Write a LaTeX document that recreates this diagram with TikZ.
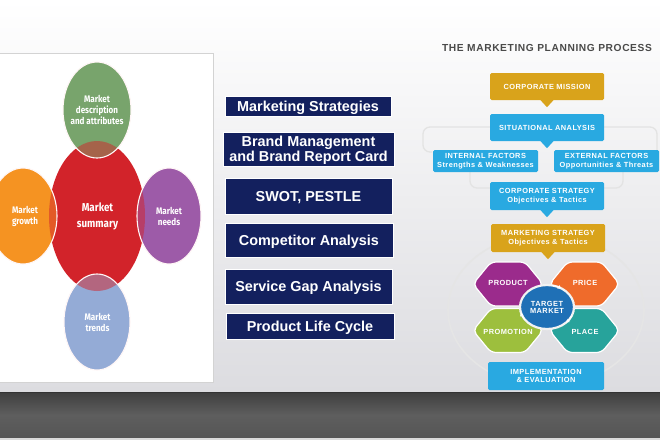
\documentclass[tikz,border=0pt]{standalone}
\usepackage{fontspec}
\setmainfont{Liberation Sans}
\newfontfamily\gfont[LetterSpace=6]{Liberation Sans}
\newfontfamily\cfont[FakeStretch=0.85]{Fira Sans}
\usetikzlibrary{arrows.meta}
\definecolor{bgbot}{HTML}{DCDCE0}
\definecolor{panelline}{HTML}{D3D3D3}
\definecolor{mred}{HTML}{D2232A}
\definecolor{mgreen}{HTML}{78A46C}
\definecolor{morange}{HTML}{F59322}
\definecolor{mpurple}{HTML}{9D5BA8}
\definecolor{mblue}{HTML}{94ABD6}
\definecolor{navy}{HTML}{13205E}
\definecolor{gold}{HTML}{D9A31B}
\definecolor{sky}{HTML}{29A9E1}
\definecolor{hpurple}{HTML}{9B2B8C}
\definecolor{horange}{HTML}{EF6B2B}
\definecolor{hgreen}{HTML}{9DBF3D}
\definecolor{hteal}{HTML}{27A39B}
\definecolor{tblue}{HTML}{1F70B6}
\definecolor{titlegray}{HTML}{4A4A4A}
\definecolor{floortop}{HTML}{3F3F3F}
\definecolor{floormid}{HTML}{5E5E5E}
\definecolor{floorbot}{HTML}{555555}
\newcommand{\dn}[1]{\raisebox{-1.7pt}[\height][\depth]{#1}}
\newcommand{\hexa}[3]{%
  \filldraw[fill=#3, draw=white, line width=1.2pt, rounded corners=5pt]
    (#1-35,#2) -- (#1-17,#2-22) -- (#1+17,#2-22) -- (#1+35,#2)
    -- (#1+17,#2+22) -- (#1-17,#2+22) -- cycle;}
\newcommand{\mcircle}[5]{% cx cy rx ry colour
  \fill[#5] (#1,#2) ellipse [x radius=#3, y radius=#4];
  \begin{scope}
    \clip (#1,#2) ellipse [x radius=#3, y radius=#4];
    \fill[mred, opacity=0.5] (97,216) ellipse [x radius=48, y radius=75];
  \end{scope}
  \draw[white!85!pink, line width=1.1pt] (#1,#2) ellipse [x radius=#3, y radius=#4];}
\begin{document}
\begin{tikzpicture}[x=1pt,y=-1pt,
  navybox/.style={fill=navy, draw=white, line width=0.8pt, text=white,
    font=\bfseries\fontsize{14.4}{14.4}\selectfont, align=center, inner sep=0pt},
  rbox/.style={text=white, font=\gfont\bfseries\fontsize{7.4}{8.4}\selectfont,
    align=center, inner sep=0pt, rounded corners=1.5pt},
  hexlabel/.style={text=white, font=\gfont\bfseries\fontsize{7.4}{8.4}\selectfont, align=center, inner sep=0pt},
  ctext/.style={text=white, font=\cfont\bfseries\fontsize{9.5}{11}\selectfont, align=center, inner sep=0pt},
  faint/.style={draw=black!11, line width=1.3pt, rounded corners=7pt}
]
\useasboundingbox (0,0) rectangle (660,440);
\clip (0,0) rectangle (660,440);
% background
\shade[top color=white, bottom color=bgbot] (0,0) rectangle (660,392);
\shade[top color=floortop, bottom color=floorbot, middle color=floormid] (0,392) rectangle (660,438);
\draw[black!80, line width=1pt] (0,392.5) -- (660,392.5);
\fill[black!15] (0,438) rectangle (660,440);

% left panel
\filldraw[fill=white, draw=panelline, line width=0.6pt] (-1,53) rectangle (213,382);
\begin{scope}
\clip (0,53) rectangle (213,382);
\fill[mred] (97,216) ellipse [x radius=48, y radius=75];
\mcircle{97}{110}{34}{48}{mgreen}
\mcircle{23}{216}{34}{48}{morange}
\mcircle{169}{216}{32}{48}{mpurple}
\mcircle{97}{322}{33}{48}{mblue}
\end{scope}
\node[ctext] (desc) at (97,110) {Market\\description\\and attributes};
\node[ctext, font=\cfont\bfseries\fontsize{11.5}{16}\selectfont] (summary) at (97.5,216) {Market\\summary};
\node[ctext] (growth) at (25,216) {Market\\growth};
\node[ctext] (needs) at (169,216) {Market\\needs};
\node[ctext] (trends) at (97.5,322) {Market\\trends};

% middle boxes
\node[navybox, minimum width=166pt, minimum height=20pt] (b1) at (308,106) {\dn{Marketing Strategies}};
\node[navybox, minimum width=171pt, minimum height=34pt] (b2) at (308.5,149)
  {\dn{\begin{tabular}{@{}c@{}}Brand Management\\and Brand Report Card\end{tabular}}};
\node[navybox, minimum width=167pt, minimum height=36pt] (b3) at (308.5,196) {\dn{SWOT, PESTLE}};
\node[navybox, minimum width=168pt, minimum height=34pt] (b4) at (309,240) {\dn{Competitor Analysis}};
\node[navybox, minimum width=167pt, minimum height=35pt] (b5) at (308.5,286.5) {\dn{Service Gap Analysis}};
\node[navybox, minimum width=168pt, minimum height=26pt] (b6) at (310,326) {\dn{Product Life Cycle}};

% right: marketing planning process
\node[text=titlegray, font=\gfont\bfseries\fontsize{10.2}{12}\selectfont, inner sep=0pt] (title) at (547,48) {THE MARKETING PLANNING PROCESS};
\draw[faint] (432,152) -- (423,152) -- (423,127) -- (657,127) -- (657,152);
\draw[faint] (470,172) -- (470,188) -- (623,188) -- (623,172);
\draw[black!10, line width=1.6pt] (546,310) ellipse [x radius=98, y radius=76];

\node[rbox, fill=gold, minimum width=114pt, minimum height=27pt] (mission) at (547,86.5) {CORPORATE MISSION};
\node[rbox, fill=sky, minimum width=114pt, minimum height=27pt] (situ) at (547,127.5) {SITUATIONAL ANALYSIS};
\node[rbox, fill=sky, minimum width=105pt, minimum height=22pt] (internal) at (485.5,161) {INTERNAL FACTORS\\Strengths \& Weaknesses};
\node[rbox, fill=sky, minimum width=105pt, minimum height=22pt] (external) at (606.5,161) {EXTERNAL FACTORS\\Opportunities \& Threats};
\node[rbox, fill=sky, minimum width=114pt, minimum height=28pt] (corp) at (547,196) {CORPORATE STRATEGY\\Objectives \& Tactics};
\node[rbox, fill=gold, minimum width=114pt, minimum height=28pt] (mkt) at (548,238) {MARKETING STRATEGY\\Objectives \& Tactics};
\node[rbox, fill=sky, minimum width=116pt, minimum height=28pt] (impl) at (546,376) {IMPLEMENTATION\\\& EVALUATION};

\foreach \n/\c in {mission/gold, situ/sky, corp/sky, mkt/gold}
  \fill[\c] ([xshift=-7pt,yshift=0.6pt]\n.south) -- ([xshift=7pt,yshift=0.6pt]\n.south) -- ([yshift=-7pt]\n.south) -- cycle;

% 4P hexagons
\hexa{508}{284}{hpurple}
\hexa{584.5}{284}{horange}
\hexa{508}{330.5}{hgreen}
\hexa{584.5}{330.5}{hteal}
\node[hexlabel] (product) at (508,283) {PRODUCT};
\node[hexlabel] (price) at (585,283) {PRICE};
\node[hexlabel] (promotion) at (508,332) {PROMOTION};
\node[hexlabel] (place) at (585,332) {PLACE};

% target market
\fill[tblue] (547,307) ellipse [x radius=27, y radius=22];
\draw[white!90!gray, line width=2.2pt] (547,307) ellipse [x radius=27, y radius=22];
\foreach \a in {-58,45,165}
  \draw[white, line width=1pt, -{Stealth[length=3.5pt,width=4pt]}]
    ([shift={(\a-22:27 and 22)}]547,307) arc[start angle=\a-22, end angle=\a, x radius=27, y radius=22];
\node[hexlabel, font=\gfont\bfseries\fontsize{7.4}{7.8}\selectfont] (target) at (547,307.5) {TARGET\\MARKET};
\end{tikzpicture}
\end{document}
